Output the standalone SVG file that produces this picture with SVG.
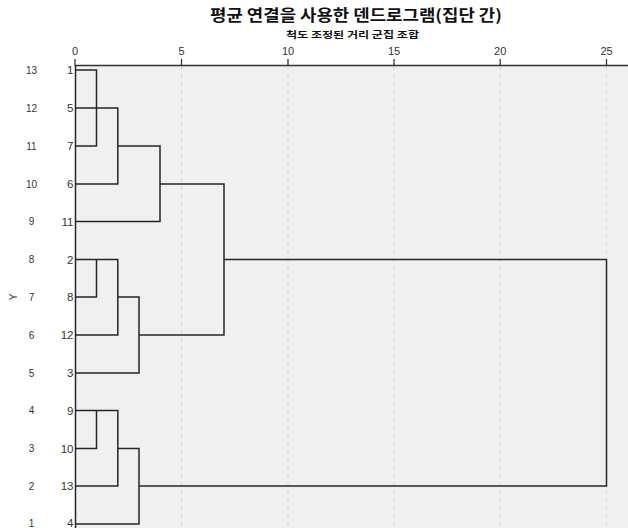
<svg xmlns="http://www.w3.org/2000/svg" width="628" height="528" viewBox="0 0 628 528">
<style>
.t{font-family:"Noto Sans CJK KR","Noto Sans",sans-serif;font-weight:bold;fill:#111;text-anchor:middle}
.n{font-family:"Liberation Sans",Arial,sans-serif;font-size:11px;fill:#333}
.yl{font-family:"Liberation Sans",Arial,sans-serif;font-size:10px;fill:#333;text-anchor:middle}
.lf{font-family:"Liberation Sans",Arial,sans-serif;font-size:11.5px;fill:#333;text-anchor:end}
.grid{stroke:#d6d6d6;stroke-width:1;stroke-dasharray:4 4;fill:none}
.ln{fill:none;stroke:#262626;stroke-width:1.5}
.ax{stroke:#333;stroke-width:1.3;fill:none}
</style>
<rect x="0" y="0" width="628" height="528" fill="#ffffff"/>
<rect x="75" y="65" width="553" height="463" fill="#f0f0f0"/>
<g id="title">
<text class="t" x="356" y="21" font-size="15.5" textLength="292" lengthAdjust="spacingAndGlyphs">평균 연결을 사용한 덴드로그램(집단 간)</text>
<text class="t" x="352.5" y="37.5" font-size="9.5" textLength="133" lengthAdjust="spacingAndGlyphs">척도 조정된 거리 군집 조합</text>
</g>
<g id="grid">
<line class="grid" x1="181.5" y1="66" x2="181.5" y2="528"/>
<line class="grid" x1="288" y1="66" x2="288" y2="528"/>
<line class="grid" x1="394" y1="66" x2="394" y2="528"/>
<line class="grid" x1="500.2" y1="66" x2="500.2" y2="528"/>
<line class="grid" x1="606.5" y1="66" x2="606.5" y2="528"/>
</g>
<g id="x-axis">
<path class="ax" d="M75 65.5H628 M75 59V65.5 M181.5 59V65.5 M288 59V65.5 M394 59V65.5 M500.2 59V65.5 M606.5 59V65.5"/>
<text class="n" x="75" y="55" text-anchor="middle">0</text>
<text class="n" x="181.5" y="55" text-anchor="middle">5</text>
<text class="n" x="288" y="55" text-anchor="middle">10</text>
<text class="n" x="394" y="55" text-anchor="middle">15</text>
<text class="n" x="500.2" y="55" text-anchor="middle">20</text>
<text class="n" x="606.5" y="55" text-anchor="middle">25</text>
</g>
<g id="y-axis">
<text class="yl" x="13" y="297" transform="rotate(-90 13 297)" dy="3.5">Y</text>
<text class="yl" x="31.5" y="73.5">13</text>
<text class="yl" x="31.5" y="111.5">12</text>
<text class="yl" x="31.5" y="149.5">11</text>
<text class="yl" x="31.5" y="187.5">10</text>
<text class="yl" x="31.5" y="225">9</text>
<text class="yl" x="31.5" y="263">8</text>
<text class="yl" x="31.5" y="300.5">7</text>
<text class="yl" x="31.5" y="338.5">6</text>
<text class="yl" x="31.5" y="376.5">5</text>
<text class="yl" x="31.5" y="414">4</text>
<text class="yl" x="31.5" y="452">3</text>
<text class="yl" x="31.5" y="489.5">2</text>
<text class="yl" x="31.5" y="527">1</text>
</g>
<g id="leaf-1"><text class="lf" x="73.5" y="74">1</text></g>
<g id="leaf-5"><text class="lf" x="73.5" y="112">5</text></g>
<g id="leaf-7"><text class="lf" x="73.5" y="150">7</text></g>
<g id="leaf-6"><text class="lf" x="73.5" y="188">6</text></g>
<g id="leaf-11"><text class="lf" x="73.5" y="225.5">11</text></g>
<g id="leaf-2"><text class="lf" x="73.5" y="263.5">2</text></g>
<g id="leaf-8"><text class="lf" x="73.5" y="301">8</text></g>
<g id="leaf-12"><text class="lf" x="73.5" y="339">12</text></g>
<g id="leaf-3"><text class="lf" x="73.5" y="377">3</text></g>
<g id="leaf-9"><text class="lf" x="73.5" y="414.5">9</text></g>
<g id="leaf-10"><text class="lf" x="73.5" y="452.5">10</text></g>
<g id="leaf-13"><text class="lf" x="73.5" y="490">13</text></g>
<g id="leaf-4"><text class="lf" x="73.5" y="527">4</text></g>
<g id="connectors">
<path class="ln" d="M75.5 65V528"/>
<path class="ln" d="M75 70H96.5V146H75"/>
<path class="ln" d="M75 108H117.8V184H75"/>
<path class="ln" d="M117.8 146H160V221.5H75"/>
<path class="ln" d="M160 184H224V335H139"/>
<path class="ln" d="M75 259.5H117.8V335H75"/>
<path class="ln" d="M75 297H96.5V259.5"/>
<path class="ln" d="M117.8 297H139V373H75"/>
<path class="ln" d="M224 259.5H606.5V486H139"/>
<path class="ln" d="M75 410.5H117.8V486H75"/>
<path class="ln" d="M75 448.5H96.5V410.5"/>
<path class="ln" d="M117.8 448.5H139V524H75"/>
</g>
</svg>
